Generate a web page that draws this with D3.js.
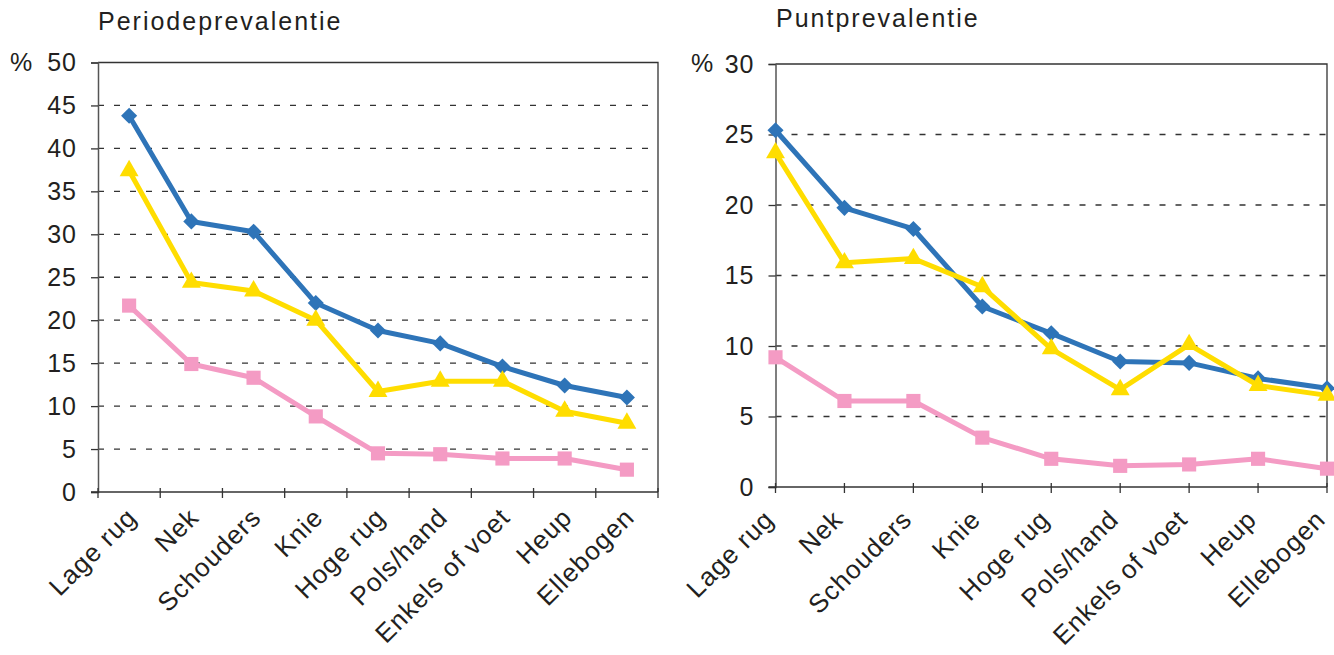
<!DOCTYPE html>
<html>
<head>
<meta charset="utf-8">
<script src="https://cdn.jsdelivr.net/npm/d3@7"></script>
<style>
  body { margin: 0; background: #fff; }
  text { font-family: "Liberation Sans", Arial, Helvetica, sans-serif; fill: #231f20; }
</style>
</head>
<body>
<div id="chart"></div>
<script>
// body parts, same order in both charts
var categories = ["Lage rug", "Nek", "Schouders", "Knie", "Hoge rug", "Pols/hand", "Enkels of voet", "Heup", "Ellebogen"];

// periodeprevalentie (%)
var periodBlue   = [43.8, 31.5, 30.3, 22.0, 18.8, 17.3, 14.6, 12.4, 11.0];
var periodYellow = [37.4, 24.4, 23.4, 20.0, 11.7, 12.9, 12.9, 9.4, 8.0];
var periodPink   = [21.7, 14.9, 13.3, 8.8, 4.5, 4.4, 3.9, 3.9, 2.6];
var periodTicks  = [0, 5, 10, 15, 20, 25, 30, 35, 40, 45, 50];

// puntprevalentie (%)
var puntBlue   = [25.3, 19.8, 18.3, 12.8, 10.9, 8.9, 8.8, 7.7, 7.0];
var puntYellow = [23.7, 15.9, 16.2, 14.2, 9.8, 6.9, 10.1, 7.2, 6.5];
var puntPink   = [9.2, 6.1, 6.1, 3.5, 2.0, 1.5, 1.6, 2.0, 1.3];
var puntTicks  = [0, 5, 10, 15, 20, 25, 30];

var width = 1334, height = 655;
var blue = "#2e74b8", yellow = "#ffdd00", pink = "#f49bc4";

var svg = d3.select("#chart").append("svg")
	.attr("width", width)
	.attr("height", height);

function drawChart(opt) {
	var x, xTicks;
	if (opt.band) {
		x = d3.scaleBand().domain(categories).range([opt.left, opt.right]);
		// ticks sit between the categories
		xTicks = categories.map(function (c) { return x(c); }).concat([opt.right]);
	} else {
		x = d3.scalePoint().domain(categories).range([opt.left, opt.right]);
		xTicks = categories.map(function (c) { return x(c); });
	}
	var cx = function (c) { return opt.band ? x(c) + x.bandwidth() / 2 : x(c); };

	var y = d3.scaleLinear().domain([0, d3.max(opt.ticks)]).range([opt.bottom, opt.top]);

	var g = svg.append("g");

	// dashed gridlines
	g.selectAll(".grid")
		.data(opt.ticks.slice(1, -1))
		.enter().append("line")
		.attr("x1", opt.left).attr("x2", opt.right)
		.attr("y1", function (d) { return y(d); })
		.attr("y2", function (d) { return y(d); })
		.attr("stroke", "#333")
		.attr("stroke-width", 1.3)
		.attr("stroke-dasharray", "6,10");

	// frame: top and right border
	g.append("path")
		.attr("d", "M" + opt.left + "," + y(d3.max(opt.ticks)) + "H" + opt.right + "V" + opt.bottom)
		.attr("fill", "none")
		.attr("stroke", "#333")
		.attr("stroke-width", 1.3);

	// y axis
	var yAxis = g.append("g")
		.attr("transform", "translate(" + opt.left + ",0)")
		.call(d3.axisLeft(y).tickValues(opt.ticks).tickSize(7).tickPadding(14));
	yAxis.select(".domain").attr("stroke", "#555").attr("stroke-width", 1.5);
	yAxis.selectAll(".tick line").attr("stroke", "#333").attr("stroke-width", 1.3);
	yAxis.selectAll(".tick text")
		.attr("fill", "#231f20")
		.style("font-size", "25px")
		.style("letter-spacing", "1px")
		.style("font-family", "'Liberation Sans', Arial, sans-serif");

	// x axis line and ticks
	g.append("line")
		.attr("x1", opt.left - 7).attr("x2", opt.right)
		.attr("y1", opt.bottom).attr("y2", opt.bottom)
		.attr("stroke", "#333").attr("stroke-width", 1.5);
	g.selectAll(".xtick")
		.data(xTicks)
		.enter().append("line")
		.attr("x1", function (d) { return d; })
		.attr("x2", function (d) { return d; })
		.attr("y1", opt.bottom - 4)
		.attr("y2", opt.bottom + 6)
		.attr("stroke", "#333").attr("stroke-width", 1.3);

	// category labels, rotated
	g.selectAll(".xlabel")
		.data(categories)
		.enter().append("text")
		.attr("text-anchor", "end")
		.attr("transform", function (c) {
			return "translate(" + (cx(c) + opt.labelDx) + "," + (opt.bottom + opt.labelDy) + ") rotate(-45)";
		})
		.style("font-size", "26px")
		.style("letter-spacing", "1px")
		.text(function (c) { return c; });

	// title and % sign
	g.append("text")
		.attr("x", opt.titleX).attr("y", opt.titleY)
		.style("font-size", "25px")
		.style("letter-spacing", "2px")
		.text(opt.title);
	g.append("text")
		.attr("x", opt.pctX).attr("y", y(d3.max(opt.ticks)))
		.attr("dy", "0.32em")
		.style("font-size", "25px")
		.text("%");

	var line = d3.line()
		.x(function (d, i) { return cx(categories[i]); })
		.y(function (d) { return y(d); });

	var series = [
		{ values: opt.blue, color: blue, symbol: d3.symbolSquare, size: 130, rotate: 45 },
		{ values: opt.pink, color: pink, symbol: d3.symbolSquare, size: 200, rotate: 0 },
		{ values: opt.yellow, color: yellow, symbol: d3.symbolTriangle, size: 155, rotate: 0 }
	];

	series.forEach(function (s) {
		g.append("path")
			.datum(s.values)
			.attr("d", line)
			.attr("fill", "none")
			.attr("stroke", s.color)
			.attr("stroke-width", 5)
			.attr("stroke-linejoin", "round");
		g.selectAll(null)
			.data(s.values)
			.enter().append("path")
			.attr("d", d3.symbol().type(s.symbol).size(s.size))
			.attr("transform", function (d, i) {
				return "translate(" + cx(categories[i]) + "," + y(d) + ") rotate(" + s.rotate + ")";
			})
			.attr("fill", s.color);
	});
}

drawChart({
	band: true, left: 98, right: 658, top: 62.5, bottom: 492,
	ticks: periodTicks, blue: periodBlue, yellow: periodYellow, pink: periodPink,
	title: "Periodeprevalentie", titleX: 98, titleY: 30, pctX: 10,
	labelDx: 9, labelDy: 27
});

drawChart({
	band: false, left: 775.5, right: 1327, top: 64, bottom: 487,
	ticks: puntTicks, blue: puntBlue, yellow: puntYellow, pink: puntPink,
	title: "Puntprevalentie", titleX: 776, titleY: 27, pctX: 691,
	labelDx: 0, labelDy: 34
});
</script>
</body>
</html>
